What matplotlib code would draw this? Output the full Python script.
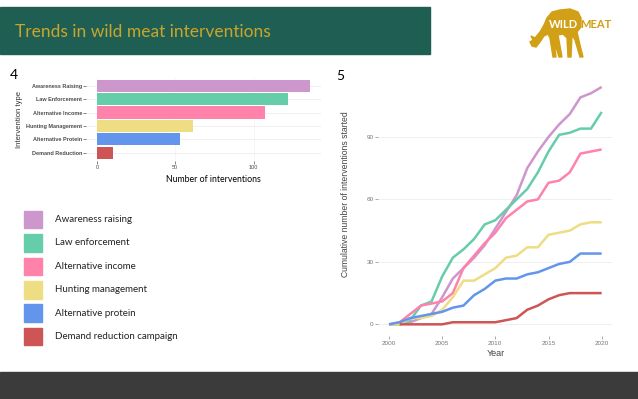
import numpy as np
import matplotlib.pyplot as plt
from matplotlib.patches import Rectangle, Polygon

W, H = 638, 399

# panel 4: number of interventions by type
types = ['Awareness Raising', 'Law Enforcement', 'Alternative Income',
         'Hunting Management', 'Alternative Protein', 'Demand Reduction']
counts = [136, 122, 107, 61, 53, 10]
colours = ['#CD96CD', '#66CDAA', '#FF82AB', '#EEDD82', '#6495ED', '#CD5555']
bar_ticks = [0, 50, 100]

legend_labels = ['Awareness raising', 'Law enforcement', 'Alternative income',
                 'Hunting management', 'Alternative protein', 'Demand reduction campaign']

# panel 5: cumulative interventions started
years = list(range(2000, 2021))
awareness = [0, 0, 1, 3, 5, 13, 22, 27, 32, 38, 46, 54, 62, 75, 83, 90, 96, 101, 109, 111, 114]
law = [0, 0, 2, 9, 11, 23, 32, 36, 41, 48, 50, 55, 60, 65, 73, 83, 91, 92, 94, 94, 102]
income = [0, 1, 5, 9, 10, 11, 15, 27, 33, 39, 44, 51, 55, 59, 60, 68, 69, 73, 82, 83, 84]
hunting = [0, 0, 3, 3, 4, 7, 13, 21, 21, 24, 27, 32, 33, 37, 37, 43, 44, 45, 48, 49, 49]
protein = [0, 1, 3, 4, 5, 6, 8, 9, 14, 17, 21, 22, 22, 24, 25, 27, 29, 30, 34, 34, 34]
demand_years = list(range(2001, 2021))
demand = [0, 0, 0, 0, 0, 1, 1, 1, 1, 1, 2, 3, 7, 9, 12, 14, 15, 15, 15, 15]
line_ticks_x = [2000, 2005, 2010, 2015, 2020]
line_ticks_y = [0, 30, 60, 90]

SLIDE_FONT = 'Lato'
GG_FONT = 'Liberation Sans'

fig = plt.figure(figsize=(W / 100, H / 100), dpi=100)

# slide decoration, drawn in pixel coordinates
bg = fig.add_axes([0, 0, 1, 1])
bg.set_xlim(0, W)
bg.set_ylim(H, 0)
bg.axis('off')
bg.add_patch(Rectangle((0, 7), 430, 47, color='#1f5f53'))
bg.text(15, 32, 'Trends in wild meat interventions', color='#c9a52c',
        fontsize=12.5, family=SLIDE_FONT, va='center', ha='left')
bg.add_patch(Rectangle((0, 372), W, H - 372, color='#3b3b3b'))

# logo (rough grazing deer)
deer = [(547, 18), (552, 12), (560, 10), (570, 9), (578, 12), (581, 18), (581, 27),
        (577, 32), (580, 45), (583, 57), (580, 57), (575, 40), (572, 35), (571, 57),
        (568, 57), (567, 38), (563, 34), (558, 35), (562, 57), (559, 57), (554, 41),
        (556, 57), (553, 57), (550, 38), (548, 34), (544, 36), (540, 42), (536, 47),
        (532, 46), (530, 42), (533, 40), (531, 36), (535, 38), (540, 32), (544, 25)]
bg.add_patch(Polygon(deer, closed=True, color='#d2a016'))
bg.text(563, 24, 'WILD', color='white', fontsize=8, fontweight='bold',
        family=SLIDE_FONT, ha='center', va='center')
bg.text(580, 24, 'MEAT', color='#d2a016', fontsize=8, fontweight='bold',
        family=SLIDE_FONT, ha='left', va='center')

bg.text(10, 75, '4', fontsize=10, family=SLIDE_FONT, va='center')
bg.text(336, 76, '5', fontsize=10, family=SLIDE_FONT, va='center')

# legend
for i, (lab, col) in enumerate(zip(legend_labels, colours)):
    yc = 219.5 + i * 23.4
    bg.add_patch(Rectangle((24, yc - 8.8), 18, 17.6, color=col))
    bg.text(55, yc, lab, fontsize=7, family=SLIDE_FONT, va='center', color='#222222')

grid_col = '#ececec'
tick_col = '#555555'

# panel 4 bar chart
ax1 = fig.add_axes([86.4 / W, 1 - 160.7 / H, 234.2 / W, 83 / H])
ax1.set_facecolor('none')
ypos = np.arange(len(types))[::-1] + 1
ax1.barh(ypos, counts, height=0.9, color=colours, zorder=2)
xmax = max(counts)
ax1.set_xlim(-0.05 * xmax, 1.05 * xmax)
ax1.set_ylim(0.4, len(types) + 0.6)
ax1.set_yticks(ypos)
ax1.set_yticklabels(types, fontsize=4.0, fontweight='bold', family=GG_FONT, color='#4d4d4d')
ax1.set_xticks(bar_ticks)
ax1.set_xticklabels([str(t) for t in bar_ticks], fontsize=4, family=GG_FONT, color='#4d4d4d')
ax1.tick_params(length=2, width=0.5, color=tick_col, pad=1)
ax1.grid(axis='y', color=grid_col, linewidth=0.6, zorder=0)
ax1.grid(axis='x', color='#f3f3f3', linewidth=0.5, zorder=0)
for s in ax1.spines.values():
    s.set_visible(False)
ax1.set_xlabel('Number of interventions', fontsize=6.3, family=SLIDE_FONT)
ax1.xaxis.set_label_coords((213 - 86.4) / 234.2, -(179 - 160.7) / 83, transform=ax1.transAxes)
ax1.xaxis.label.set_va('center')
ax1.set_ylabel('Intervention type', fontsize=5.5, family=GG_FONT, color='#333333')
ax1.yaxis.set_label_coords(-(86.4 - 19) / 234.2, 0.5, transform=ax1.transAxes)
ax1.yaxis.label.set_va('center')

# panel 5 line chart
ax2 = fig.add_axes([378.4 / W, 1 - 336.2 / H, 233.9 / W, 261.1 / H])
ax2.set_facecolor('none')
series = [(years, awareness), (years, law), (years, income),
          (years, hunting), (years, protein), (demand_years, demand)]
for (xs, ys), col in zip(series, colours):
    ax2.plot(xs, ys, color=col, linewidth=1.8, solid_capstyle='butt', zorder=3)
ymax = max(awareness)
ax2.set_xlim(1999, 2021)
ax2.set_ylim(-0.05 * ymax, 1.05 * ymax)
ax2.set_xticks(line_ticks_x)
ax2.set_yticks(line_ticks_y)
ax2.set_xticklabels([str(t) for t in line_ticks_x], fontsize=4.6, family=GG_FONT, color='#777777')
ax2.set_yticklabels([str(t) for t in line_ticks_y], fontsize=4.6, family=GG_FONT, color='#777777')
ax2.tick_params(length=2, width=0.5, color='#888888', pad=1.5)
ax2.grid(axis='y', color=grid_col, linewidth=0.6, zorder=0)
for s in ax2.spines.values():
    s.set_visible(False)
ax2.set_xlabel('Year', fontsize=6.5, family=GG_FONT, color='#444444')
ax2.xaxis.set_label_coords(0.5, -(354 - 336.2) / 261.1, transform=ax2.transAxes)
ax2.xaxis.label.set_va('center')
ax2.set_ylabel('Cumulative number of interventions started', fontsize=6.2,
               family=GG_FONT, color='#444444')
ax2.yaxis.set_label_coords(-(378.4 - 345) / 233.9, (336.2 - 194) / 261.1, transform=ax2.transAxes)
ax2.yaxis.label.set_va('center')

fig.savefig('out.png', dpi=100)
